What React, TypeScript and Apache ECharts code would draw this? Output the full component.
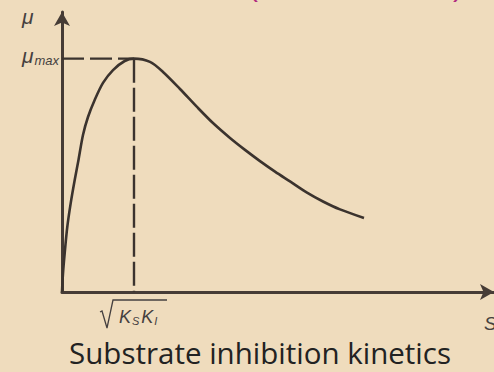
import React, { useEffect, useRef } from "react";
import * as echarts from "echarts";

// Substrate concentration S (x) and specific growth rate μ (y)
const sValues = [
  0, 0.028, 0.075, 0.147, 0.242, 0.353, 0.458, 0.583, 0.722, 0.908, 1.139, 1.417, 1.742, 2.0,
  2.444, 2.806, 3.278, 3.75, 4.194, 4.667, 5.083, 5.5, 5.917, 6.333, 6.806, 7.25, 7.722, 8.389,
];
const muValues = [
  0, 0.081, 0.167, 0.279, 0.381, 0.48, 0.566, 0.673, 0.75, 0.823, 0.896, 0.951, 0.99, 1.0,
  0.986, 0.943, 0.87, 0.793, 0.724, 0.66, 0.609, 0.561, 0.516, 0.474, 0.426, 0.388, 0.354, 0.317,
];

// Optimum S = sqrt(Ks·Ki) and the maximum rate reached there
const peakS = 2;
const muMax = 1;

const xMax = 12;
const yMax = 1.2;

const title = "Substrate inhibition kinetics";

const ink = "#3b332e";
const axisInk = "#463c36";
const labelInk = "#454040";
const bg = "#EFDCBD";
const accent = "#b02a80";

export default function App() {
  const ref = useRef<HTMLDivElement>(null);

  useEffect(() => {
    document.body.style.margin = "0";
    if (!ref.current) return;
    const chart = echarts.init(ref.current, undefined, { renderer: "svg" });

    const curve = sValues.map((s, i) => [s, muValues[i]]);
    const italic = { fontStyle: "italic", fill: labelInk, fontFamily: "Liberation Sans" };

    chart.setOption({
      animation: false,
      backgroundColor: bg,
      grid: { left: 62, right: 0, top: 12, bottom: 80 },
      xAxis: {
        type: "value",
        min: 0,
        max: xMax,
        axisLine: {
          show: true,
          symbol: ["none", "arrow"],
          symbolSize: [12, 14],
          lineStyle: { color: axisInk, width: 3 },
        },
        axisTick: { show: false },
        axisLabel: { show: false },
        splitLine: { show: false },
      },
      yAxis: {
        type: "value",
        min: 0,
        max: yMax,
        axisLine: {
          show: true,
          symbol: ["none", "arrow"],
          symbolSize: [12, 14],
          lineStyle: { color: axisInk, width: 3 },
        },
        axisTick: { show: false },
        axisLabel: { show: false },
        splitLine: { show: false },
      },
      series: [
        {
          type: "line",
          data: curve,
          smooth: 0.3,
          showSymbol: false,
          lineStyle: { color: ink, width: 2.6 },
          z: 3,
        },
        {
          type: "line",
          data: [
            [0, muMax],
            [peakS, muMax],
          ],
          showSymbol: false,
          lineStyle: { color: ink, width: 2.4, type: [22, 6] },
          z: 2,
        },
        {
          type: "line",
          data: [
            [peakS, muMax],
            [peakS, 0],
          ],
          showSymbol: false,
          lineStyle: { color: ink, width: 2.4, type: [24, 5] },
          z: 2,
        },
      ],
      graphic: [
        // parentheses of a heading running off the top edge
        {
          type: "text",
          left: 248,
          top: -30,
          style: { text: "(", fontSize: 30, fill: accent, fontFamily: "Liberation Sans" },
        },
        {
          type: "text",
          left: 453,
          top: -30,
          style: { text: ")", fontSize: 30, fill: accent, fontFamily: "Liberation Sans" },
        },
        {
          type: "text",
          left: 22,
          top: 6,
          style: { text: "μ", fontSize: 21, ...italic },
        },
        {
          type: "text",
          left: 22,
          top: 45,
          style: {
            text: "{m|μ}{s|max}",
            rich: {
              m: { fontSize: 21, ...italic },
              s: { fontSize: 13, ...italic, padding: [9, 0, 0, 1] },
            },
          },
        },
        // radical sign over Ks·Ki
        {
          type: "polyline",
          shape: {
            points: [
              [100, 312],
              [102, 311],
              [107, 328],
              [113, 300],
              [167, 300],
            ],
          },
          style: { stroke: labelInk, lineWidth: 1.3, fill: "none" },
        },
        {
          type: "text",
          left: 119,
          top: 308,
          style: {
            text: "{k|K}{s|S}{k|K}{s|I}",
            rich: {
              k: { fontSize: 18, ...italic },
              s: { fontSize: 11, ...italic, padding: [8, 2, 0, 1] },
            },
          },
        },
        {
          type: "text",
          left: 484,
          top: 314,
          style: { text: "S", fontSize: 19, ...italic },
        },
        {
          type: "text",
          x: 260,
          y: 337,
          style: {
            text: title,
            fontSize: 29.5,
            fill: "#222222",
            fontFamily: "Open Sans",
            align: "center",
            verticalAlign: "top",
          },
        },
      ],
    });

    return () => chart.dispose();
  }, []);

  return (
    <div
      ref={ref}
      style={{ position: "absolute", left: 0, top: 0, width: 494, height: 372 }}
    />
  );
}
